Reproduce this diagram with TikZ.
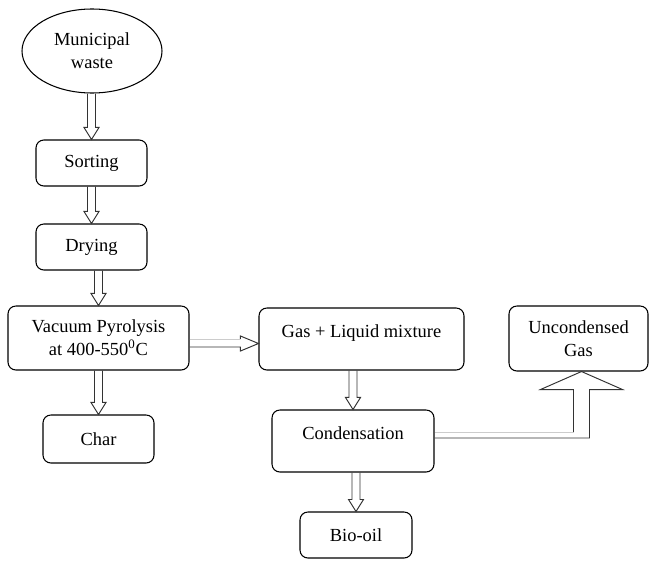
\documentclass[tikz,border=0pt]{standalone}
\usepackage{fontspec}
\setmainfont{Liberation Serif}
\usepackage{tikz}
\usetikzlibrary{calc,shapes.geometric}

% hollow block arrow pointing down into #2
\newcommand{\downblk}[2]{%
  \draw[blk] ($(#1.south -| #2.north)+(-0.08,0)$) -- ($(#2.north)+(-0.08,0.24)$)
    -- ($(#2.north)+(-0.15,0.24)$) -- (#2.north) -- ($(#2.north)+(0.15,0.24)$)
    -- ($(#2.north)+(0.08,0.24)$) -- ($(#1.south -| #2.north)+(0.08,0)$);}

\begin{document}
\begin{tikzpicture}[font=\fontsize{10.5}{13}\selectfont,
  box/.style={draw, line width=0.6pt, rounded corners=4.5pt, align=center, inner sep=1pt},
  oval/.style={draw, line width=0.6pt, ellipse, align=center, inner sep=0pt, minimum width=2.8cm, minimum height=1.68cm},
  blk/.style={draw=black!80, line width=0.55pt, line join=miter},
  faint/.style={draw=black!20, line width=0.5pt}]
\useasboundingbox (0,0) rectangle (13,-11.2);
\node[oval] (waste) at (1.84,-1.02) {Municipal\\waste};
\node[box, minimum width=2.22cm, minimum height=0.92cm] (sort) at (1.83,-3.26) {Sorting};
\node[box, minimum width=2.22cm, minimum height=0.92cm] (dry) at (1.83,-4.94) {Drying};
\node[box, minimum width=3.62cm, minimum height=1.28cm] (vac) at (1.97,-6.76) {Vacuum Pyrolysis\\at 400-550\textsuperscript{0}C};
\node[box, minimum width=2.22cm, minimum height=0.96cm] (char) at (1.97,-8.78) {Char};
\node[box, minimum width=4.1cm, minimum height=1.24cm] (gas) at (7.23,-6.78) {Gas + Liquid mixture\\[-4.5pt]~};
\node[box, minimum width=3.24cm, minimum height=1.24cm] (cond) at (7.06,-8.82) {Condensation\\[-4.5pt]~};
\node[box, minimum width=2.24cm, minimum height=0.92cm] (bio) at (7.12,-10.7) {Bio-oil};
\node[box, minimum width=2.78cm, minimum height=1.3cm] (unc) at (11.57,-6.77) {Uncondensed\\Gas};
% vertical flow
\downblk{waste}{sort}
\downblk{sort}{dry}
\downblk{dry}{vac}
\downblk{vac}{char}
\downblk{gas}{cond}
\downblk{cond}{bio}
% pyrolysis to gas + liquid
\draw[blk] ($(vac.east)+(0,-0.18)$) -- ($(gas.west |- vac.east)+(-0.36,-0.18)$) -- +(0,-0.08)
  -- ($(gas.west |- vac.east)+(0,-0.11)$) -- ($(gas.west |- vac.east)+(-0.36,0.04)$) -- +(0,-0.06);
\draw[faint] ($(vac.east)+(0,-0.02)$) -- ($(gas.west |- vac.east)+(-0.36,-0.02)$);
% condensation to uncondensed gas
\coordinate (tip) at ($(unc.south)+(0.06,0)$);
\coordinate (bend) at (tip |- cond.east);
\draw[blk] ($(cond.east)+(0,0.06)$) -- ($(bend)+(0.16,0.06)$) -- ($(tip)+(0.16,-0.36)$)
  -- ($(tip)+(0.82,-0.36)$) -- (tip) -- ($(tip)+(-0.82,-0.36)$) -- ($(tip)+(-0.16,-0.36)$)
  -- ($(bend)+(-0.16,0.18)$);
\draw[faint] ($(bend)+(-0.16,0.18)$) -- ($(cond.east)+(0,0.18)$);
\end{tikzpicture}
\end{document}
